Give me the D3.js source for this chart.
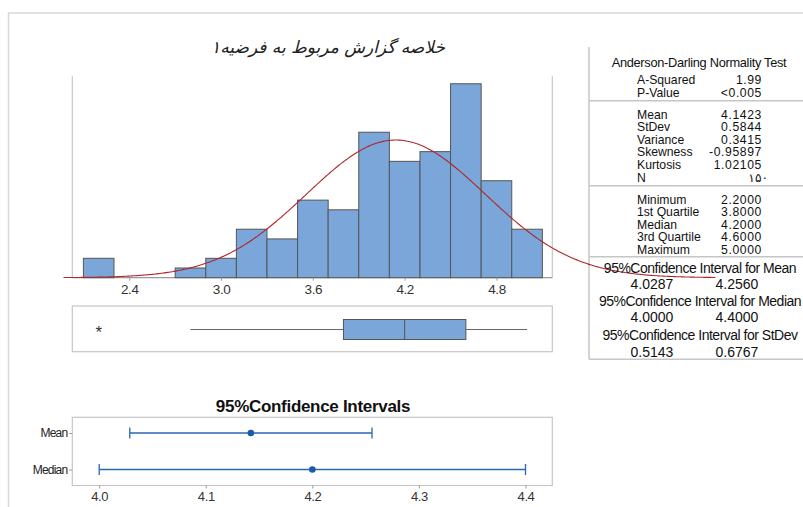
<!DOCTYPE html>
<html><head><meta charset="utf-8">
<script src="https://cdn.jsdelivr.net/npm/d3@7"></script>
<style>
html,body{margin:0;padding:0;background:#fff;}
svg{display:block;}
</style></head>
<body>
<svg id="chart" width="803" height="507"></svg>
<script>
// ---------- DATA ----------
const title = "خلاصه گزارش مربوط به فرضیه۱";
const binStarts = [2.1,2.3,2.5,2.7,2.9,3.1,3.3,3.5,3.7,3.9,4.1,4.3,4.5,4.7,4.9];
const binWidth = 0.2;
const counts = [2,0,0,1,2,5,4,8,7,15,12,13,20,10,5];
const histTicks = [2.4,3.0,3.6,4.2,4.8];
const fitMean = 4.1423, fitSd = 0.5844;
const curveRange = [1.97, 6.23];
// boxplot: whisker low, Q1, median, Q3, whisker high
const boxValues = [2.8, 3.8, 4.2, 4.6, 5.0];
const outliers = [2.2];
// confidence intervals
const ciCategories = ["Mean","Median"];
const ciLower = [4.0287, 4.0000];
const ciCenter = [4.1423, 4.2000];
const ciUpper = [4.2560, 4.4000];
const ciTicks = [4.0,4.1,4.2,4.3,4.4];
const ciTitle = "95%Confidence Intervals";
// stats panel texts
const adTitle = "Anderson-Darling Normality Test";
const adLabels = ["A-Squared","P-Value"];
const adValues = ["1.99","<0.005"];
const descLabels = ["Mean","StDev","Variance","Skewness","Kurtosis","N"];
const descValues = ["4.1423","0.5844","0.3415","-0.95897","1.02105","۱۵۰"];
const quartLabels = ["Minimum","1st Quartile","Median","3rd Quartile","Maximum"];
const quartValues = ["2.2000","3.8000","4.2000","4.6000","5.0000"];
const ciTitles = ["95%Confidence Interval for Mean","95%Confidence Interval for Median","95%Confidence Interval for StDev"];
const ciLows = ["4.0287","4.0000","0.5143"];
const ciHighs = ["4.2560","4.4000","0.6767"];

// ---------- DRAW ----------
const svg = d3.select("#chart");
const FONT = "'Liberation Sans', Arial, sans-serif";
const gridCol = "#c6c6c6";
const barFill = "#7ba6d9";
const barStroke = "#555";

// outer page border
svg.append("path").attr("d","M8.5,507 L8.5,13 L803,13").attr("fill","none")
  .attr("stroke","#d8d8d8").attr("stroke-width",1.5);

// title
svg.append("text").attr("x",328).attr("y",53).attr("text-anchor","middle")
  .attr("font-family","'DejaVu Sans', sans-serif").attr("font-size",17)
  .attr("font-style","italic").attr("fill","#222").text(title);

// histogram scales
const x = d3.scaleLinear().domain([2.0275, 5.165]).range([72.3, 552.3]);
const y = d3.scaleLinear().domain([0, 20.8]).range([277.7, 76]);

// frame
const hf = svg.append("g");
hf.append("line").attr("x1",72.3).attr("x2",72.3).attr("y1",76).attr("y2",277.7).attr("stroke",gridCol).attr("stroke-width",1.2);
hf.append("line").attr("x1",552.3).attr("x2",552.3).attr("y1",76).attr("y2",277.7).attr("stroke",gridCol).attr("stroke-width",1.2);
hf.append("line").attr("x1",72.3).attr("x2",552.3).attr("y1",277.7).attr("y2",277.7).attr("stroke","#999").attr("stroke-width",1.2);

// bars
svg.append("g").selectAll("rect").data(binStarts.map((b,i)=>({b,c:counts[i]})).filter(d=>d.c>0))
  .join("rect")
  .attr("x",d=>x(d.b)).attr("width",d=>x(d.b+binWidth)-x(d.b))
  .attr("y",d=>y(d.c)).attr("height",d=>y(0)-y(d.c))
  .attr("fill",barFill).attr("stroke",barStroke).attr("stroke-width",1);

// axis
const xAxis = d3.axisBottom(x).tickValues(histTicks).tickFormat(d3.format(".1f")).tickSize(3).tickSizeOuter(0);
const ax = svg.append("g").attr("transform","translate(0,277.7)").call(xAxis);
ax.select(".domain").remove();
ax.selectAll("line").attr("stroke","#999");
ax.selectAll("text").attr("font-family",FONT).attr("font-size",13.5).attr("fill","#333")
  .attr("letter-spacing","-0.4").attr("dy","0.8em");

// stats panel lines
const sp = svg.append("g");
sp.append("line").attr("x1",589).attr("x2",589).attr("y1",47).attr("y2",359.3).attr("stroke",gridCol).attr("stroke-width",1.5);
[100.7,185.7,256.7,359.3].forEach(yy=>{
  sp.append("line").attr("x1",589).attr("x2",803).attr("y1",yy).attr("y2",yy).attr("stroke",gridCol).attr("stroke-width",1.5);
});

// normal curve
const N = d3.sum(counts);
const pdf = v => N*binWidth/(fitSd*Math.sqrt(2*Math.PI))*Math.exp(-0.5*Math.pow((v-fitMean)/fitSd,2));
const xs = d3.range(curveRange[0], curveRange[1]+0.0001, 0.01);
svg.append("path").datum(xs)
  .attr("d", d3.line().x(v=>x(v)).y(v=>y(pdf(v))).curve(d3.curveBasis))
  .attr("fill","none").attr("stroke","#b0262c").attr("stroke-width",1.1);

// stats panel text
const st = svg.append("g").attr("font-family",FONT).attr("fill","#111").attr("font-size",12.2).attr("letter-spacing","0");
st.append("text").attr("x",699).attr("y",67).attr("text-anchor","middle").attr("font-size",12.8).attr("letter-spacing","-0.3").text(adTitle);
const adY = [84, 96.5];
adLabels.forEach((t,i)=>{
  st.append("text").attr("x",637).attr("y",adY[i]).text(t);
  st.append("text").attr("x",762).attr("y",adY[i]).attr("text-anchor","end").attr("letter-spacing","0.6").text(adValues[i]);
});
const descY = [118.5,131,143.5,156,168.5,182];
descLabels.forEach((t,i)=>{
  st.append("text").attr("x",637).attr("y",descY[i]).text(t);
  st.append("text").attr("x",i===5?768:762).attr("y",descY[i]).attr("text-anchor","end")
    .attr("font-family", i===5 ? "'DejaVu Sans', sans-serif" : FONT)
    .attr("letter-spacing", i===5 ? "0" : "0.6").text(descValues[i]);
});
const quartY = [203.5,216,228.5,241,254];
quartLabels.forEach((t,i)=>{
  st.append("text").attr("x",637).attr("y",quartY[i]).text(t);
  st.append("text").attr("x",762).attr("y",quartY[i]).attr("text-anchor","end").attr("letter-spacing","0.6").text(quartValues[i]);
});
const ciTY = [273, 305.5, 340];
const ciVY = [289, 321.5, 356.5];
ciTitles.forEach((t,i)=>{
  st.append("text").attr("x",700).attr("y",ciTY[i]).attr("text-anchor","middle").attr("font-size",14).attr("letter-spacing","-0.5").text(t);
  st.append("text").attr("x",652).attr("y",ciVY[i]).attr("text-anchor","middle").attr("font-size",14).text(ciLows[i]);
  st.append("text").attr("x",737).attr("y",ciVY[i]).attr("text-anchor","middle").attr("font-size",14).text(ciHighs[i]);
});

// boxplot
const bp = svg.append("g");
bp.append("rect").attr("x",72.3).attr("y",306).attr("width",480).attr("height",45.7)
  .attr("fill","none").attr("stroke",gridCol).attr("stroke-width",1.2);
const bY = 329.5, bH = 20;
bp.append("line").attr("x1",x(boxValues[0])).attr("x2",x(boxValues[1])).attr("y1",bY).attr("y2",bY).attr("stroke","#666");
bp.append("line").attr("x1",x(boxValues[3])).attr("x2",x(boxValues[4])).attr("y1",bY).attr("y2",bY).attr("stroke","#666");
bp.append("rect").attr("x",x(boxValues[1])).attr("width",x(boxValues[3])-x(boxValues[1]))
  .attr("y",bY-bH/2).attr("height",bH).attr("fill",barFill).attr("stroke",barStroke);
bp.append("line").attr("x1",x(boxValues[2])).attr("x2",x(boxValues[2])).attr("y1",bY-bH/2).attr("y2",bY+bH/2).attr("stroke",barStroke);
bp.selectAll("text.out").data(outliers).join("text").attr("class","out")
  .attr("x",d=>x(d)).attr("y",bY+8).attr("text-anchor","middle")
  .attr("font-family",FONT).attr("font-size",17).attr("fill","#333").text("*");

// CI chart
const cx = d3.scaleLinear().domain([4.0,4.4]).range([99.2,525.5]);
const cy = d3.scalePoint().domain(ciCategories).range([433,469.5]);
const cg = svg.append("g");
cg.append("text").attr("x",313).attr("y",412).attr("text-anchor","middle")
  .attr("font-family",FONT).attr("font-size",17).attr("font-weight","bold")
  .attr("letter-spacing","-0.3").attr("fill","#111").text(ciTitle);
cg.append("rect").attr("x",72.3).attr("y",417.3).attr("width",480).attr("height",68.2)
  .attr("fill","none").attr("stroke",gridCol).attr("stroke-width",1.2);
const cxa = cg.append("g").attr("transform","translate(0,485.5)")
  .call(d3.axisBottom(cx).tickValues(ciTicks).tickFormat(d3.format(".1f")).tickSize(3).tickSizeOuter(0));
cxa.select(".domain").remove();
cxa.selectAll("line").attr("stroke","#999");
cxa.selectAll("text").attr("font-family",FONT).attr("font-size",13).attr("fill","#333").attr("letter-spacing","-0.4");
const cya = cg.append("g").attr("transform","translate(72.3,0)")
  .call(d3.axisLeft(cy).tickSize(3).tickSizeOuter(0).tickPadding(2));
cya.select(".domain").remove();
cya.selectAll("line").attr("stroke","#999");
cya.selectAll("text").attr("font-family",FONT).attr("font-size",12).attr("fill","#222").attr("letter-spacing","-0.8");
const blue = "#2b67b3";
ciCategories.forEach((c,i)=>{
  const yy = cy(c);
  cg.append("line").attr("x1",cx(ciLower[i])).attr("x2",cx(ciUpper[i])).attr("y1",yy).attr("y2",yy).attr("stroke",blue).attr("stroke-width",1.3);
  [ciLower[i],ciUpper[i]].forEach(v=>{
    cg.append("line").attr("x1",cx(v)).attr("x2",cx(v)).attr("y1",yy-5.5).attr("y2",yy+5.5).attr("stroke",blue).attr("stroke-width",1.3);
  });
  cg.append("circle").attr("cx",cx(ciCenter[i])).attr("cy",yy).attr("r",3.3).attr("fill","#1a5aa6");
});
</script>
</body></html>
